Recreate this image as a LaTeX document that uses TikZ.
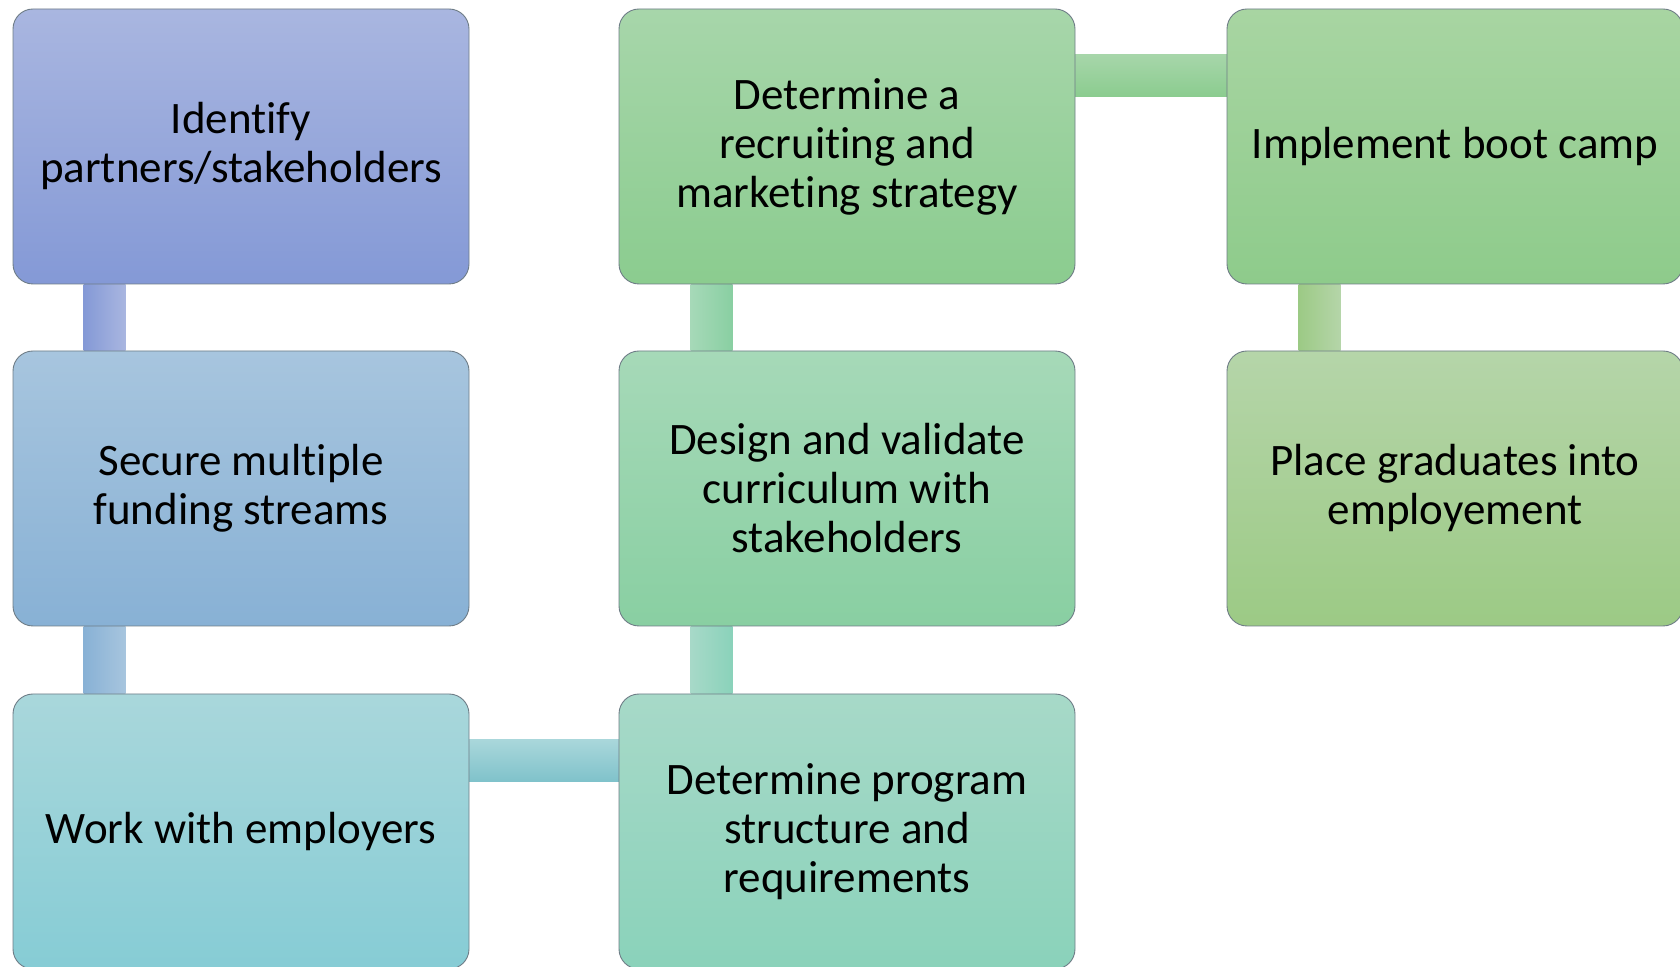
\documentclass[tikz,border=0pt]{standalone}
\usepackage{fontspec}
\setmainfont[Ligatures={NoCommon}]{Carlito}
\usetikzlibrary{backgrounds,calc}
\definecolor{aT}{HTML}{A9B6E0}\definecolor{aB}{HTML}{8499D6}
\definecolor{bT}{HTML}{A7C5DE}\definecolor{bB}{HTML}{88B1D5}
\definecolor{cT}{HTML}{A9D7DB}\definecolor{cB}{HTML}{86CCD5}
\definecolor{dT}{HTML}{A7D9C8}\definecolor{dB}{HTML}{8AD2BA}
\definecolor{eT}{HTML}{A6D9B8}\definecolor{eB}{HTML}{89CFA2}
\definecolor{fT}{HTML}{A7D6AA}\definecolor{fB}{HTML}{8BCC8F}
\definecolor{gT}{HTML}{A8D5A2}\definecolor{gB}{HTML}{8ECB8B}
\definecolor{hT}{HTML}{B5D5A9}\definecolor{hB}{HTML}{9CCA85}
\definecolor{edge}{HTML}{6E7C86}
\tikzset{
  stepbox/.style={rectangle, rounded corners=20pt, draw=edge, line width=0.9pt,
    minimum width=456pt, minimum height=275pt, align=center, inner sep=0pt,
    font=\fontsize{45}{49}\selectfont, text=black},
  link/.style={draw=none}
}
\begin{document}
\begin{tikzpicture}[x=1pt,y=1pt]
\useasboundingbox (0,0) rectangle (1680,966);
\clip (0,0) rectangle (1680,966);
\node[stepbox, top color=aT, bottom color=aB] (n11) at (241,819.5) {Identify\\partners/stakeholders};
\node[stepbox, top color=bT, bottom color=bB] (n12) at (241,477.5) {Secure multiple\\funding streams};
\node[stepbox, top color=cT, bottom color=cB] (n13) at (241,134.5) {Work with employers};
\node[stepbox, top color=dT, bottom color=dB] (n23) at (847,134.5) {Determine program\\structure and\\requirements};
\node[stepbox, top color=eT, bottom color=eB] (n22) at (847,477.5) {Design and validate\\curriculum with\\stakeholders};
\node[stepbox, top color=fT, bottom color=fB] (n21) at (847,819.5) {Determine a\\recruiting and\\marketing strategy};
\node[stepbox, top color=gT, bottom color=gB] (n31) at (1455,819.5) {Implement boot camp};
\node[stepbox, top color=hT, bottom color=hB] (n32) at (1455,477.5) {Place graduates into\\employement};
\begin{scope}[on background layer]
  \path[link, left color=aB, right color=aT] ($(n11.south west)+(71,0)$) rectangle ($(n12.north west)+(113,0)$);
  \path[link, left color=bB, right color=bT] ($(n12.south west)+(71,0)$) rectangle ($(n13.north west)+(113,0)$);
  \path[link, top color=cT, bottom color=cB!95!black] ($(n13.north east)+(-2,-46)$) rectangle ($(n23.north west)+(2,-88)$);
  \path[link, left color=dT, right color=dB] ($(n23.north west)+(72,0)$) rectangle ($(n22.south west)+(114,0)$);
  \path[link, left color=eT, right color=eB] ($(n22.north west)+(72,0)$) rectangle ($(n21.south west)+(114,0)$);
  \path[link, top color=fT, bottom color=fB] ($(n21.north east)+(-2,-46)$) rectangle ($(n31.north west)+(2,-88)$);
  \path[link, left color=hB, right color=hT] ($(n31.south west)+(72,0)$) rectangle ($(n32.north west)+(114,0)$);
\end{scope}
\end{tikzpicture}
\end{document}
